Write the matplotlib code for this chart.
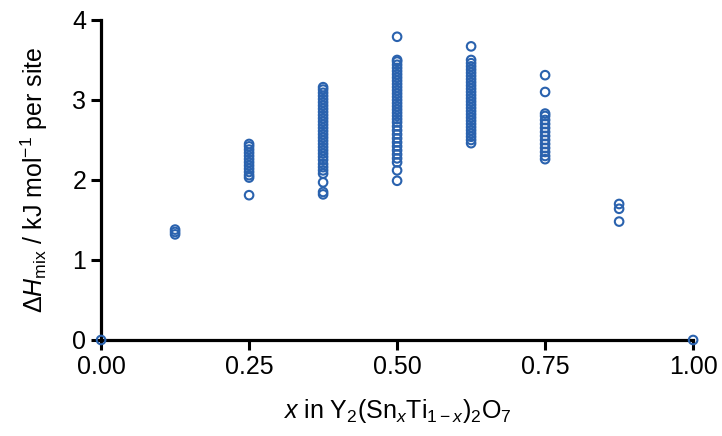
import matplotlib
matplotlib.use("Agg")
import matplotlib.pyplot as plt

plt.rcParams['font.family'] = ['Liberation Sans', 'DejaVu Sans']
plt.rcParams['mathtext.fontset'] = 'custom'
plt.rcParams['mathtext.rm'] = 'Liberation Sans'
plt.rcParams['mathtext.it'] = 'Liberation Sans:italic'
plt.rcParams['mathtext.bf'] = 'Liberation Sans:bold'

# composition x values and the mixing enthalpies observed at each
x_00 = [0.0]
h_00 = [0.0]
x_0125 = 0.125
h_0125 = [1.32, 1.35, 1.38]
x_025 = 0.25
h_025 = [1.81, 2.03, 2.06, 2.10, 2.14, 2.18, 2.22, 2.26, 2.30, 2.34, 2.38, 2.42, 2.45]
x_0375 = 0.375
h_0375 = [1.82, 1.85, 1.97, 2.08, 2.12, 2.16, 2.20, 2.25, 2.29, 2.33, 2.37, 2.41, 2.45,
          2.49, 2.53, 2.57, 2.61, 2.65, 2.69, 2.73, 2.77, 2.81, 2.85, 2.89, 2.93,
          2.97, 3.01, 3.05, 3.09, 3.13, 3.16]
x_05 = 0.5
h_05 = [1.99, 2.12, 2.22, 2.27, 2.32, 2.37, 2.42, 2.47, 2.52, 2.57, 2.62, 2.67, 2.72,
        2.76, 2.80, 2.84, 2.88, 2.92, 2.96, 3.00, 3.04, 3.08, 3.12, 3.16, 3.20, 3.24,
        3.28, 3.32, 3.36, 3.40, 3.44, 3.48, 3.50, 3.79]
x_0625 = 0.625
h_0625 = [2.46, 2.50, 2.54, 2.58, 2.62, 2.66, 2.70, 2.74, 2.78, 2.82, 2.86, 2.90, 2.94,
          2.98, 3.02, 3.06, 3.10, 3.14, 3.18, 3.22, 3.26, 3.30, 3.34, 3.38, 3.42,
          3.46, 3.50, 3.67]
x_075 = 0.75
h_075 = [2.26, 2.30, 2.35, 2.40, 2.45, 2.50, 2.55, 2.60, 2.65, 2.70, 2.75, 2.80, 2.83,
         3.10, 3.31]
x_0875 = 0.875
h_0875 = [1.48, 1.64, 1.70]
x_10 = [1.0]
h_10 = [0.0]

xs = (x_00 + [x_0125] * len(h_0125) + [x_025] * len(h_025) + [x_0375] * len(h_0375)
      + [x_05] * len(h_05) + [x_0625] * len(h_0625) + [x_075] * len(h_075)
      + [x_0875] * len(h_0875) + x_10)
hs = h_00 + h_0125 + h_025 + h_0375 + h_05 + h_0625 + h_075 + h_0875 + h_10

xticks = [0.0, 0.25, 0.5, 0.75, 1.0]
xticklabels = ['0.00', '0.25', '0.50', '0.75', '1.00']
yticks = [0, 1, 2, 3, 4]

fig = plt.figure(figsize=(7.22, 4.36), dpi=100)
ax = fig.add_axes([0.140, 0.2202, 0.820, 0.734])

color = '#2a62ae'
ax.scatter(xs, hs, s=38, facecolors='none', edgecolors=color, linewidths=1.5,
           clip_on=False, zorder=5)

ax.set_xlim(0, 1)
ax.set_ylim(0, 4)
ax.set_xticks(xticks)
ax.set_xticklabels(xticklabels)
ax.set_yticks(yticks)

for side in ['top', 'right']:
    ax.spines[side].set_visible(False)
for side in ['left', 'bottom']:
    ax.spines[side].set_linewidth(2.3)
ax.tick_params(axis='both', direction='out', length=7.5, width=2.2,
               labelsize=18, pad=3)

ax.set_xlabel(r'$x$ in Y$_2$(Sn$_x$Ti$_{1-x}$)$_2$O$_7$', fontsize=18, labelpad=13)
ax.set_ylabel(r'$\Delta H_{\rm mix}$ / kJ mol$^{-1}$ per site', fontsize=18, labelpad=16)

fig.savefig('out.png', dpi=100)
